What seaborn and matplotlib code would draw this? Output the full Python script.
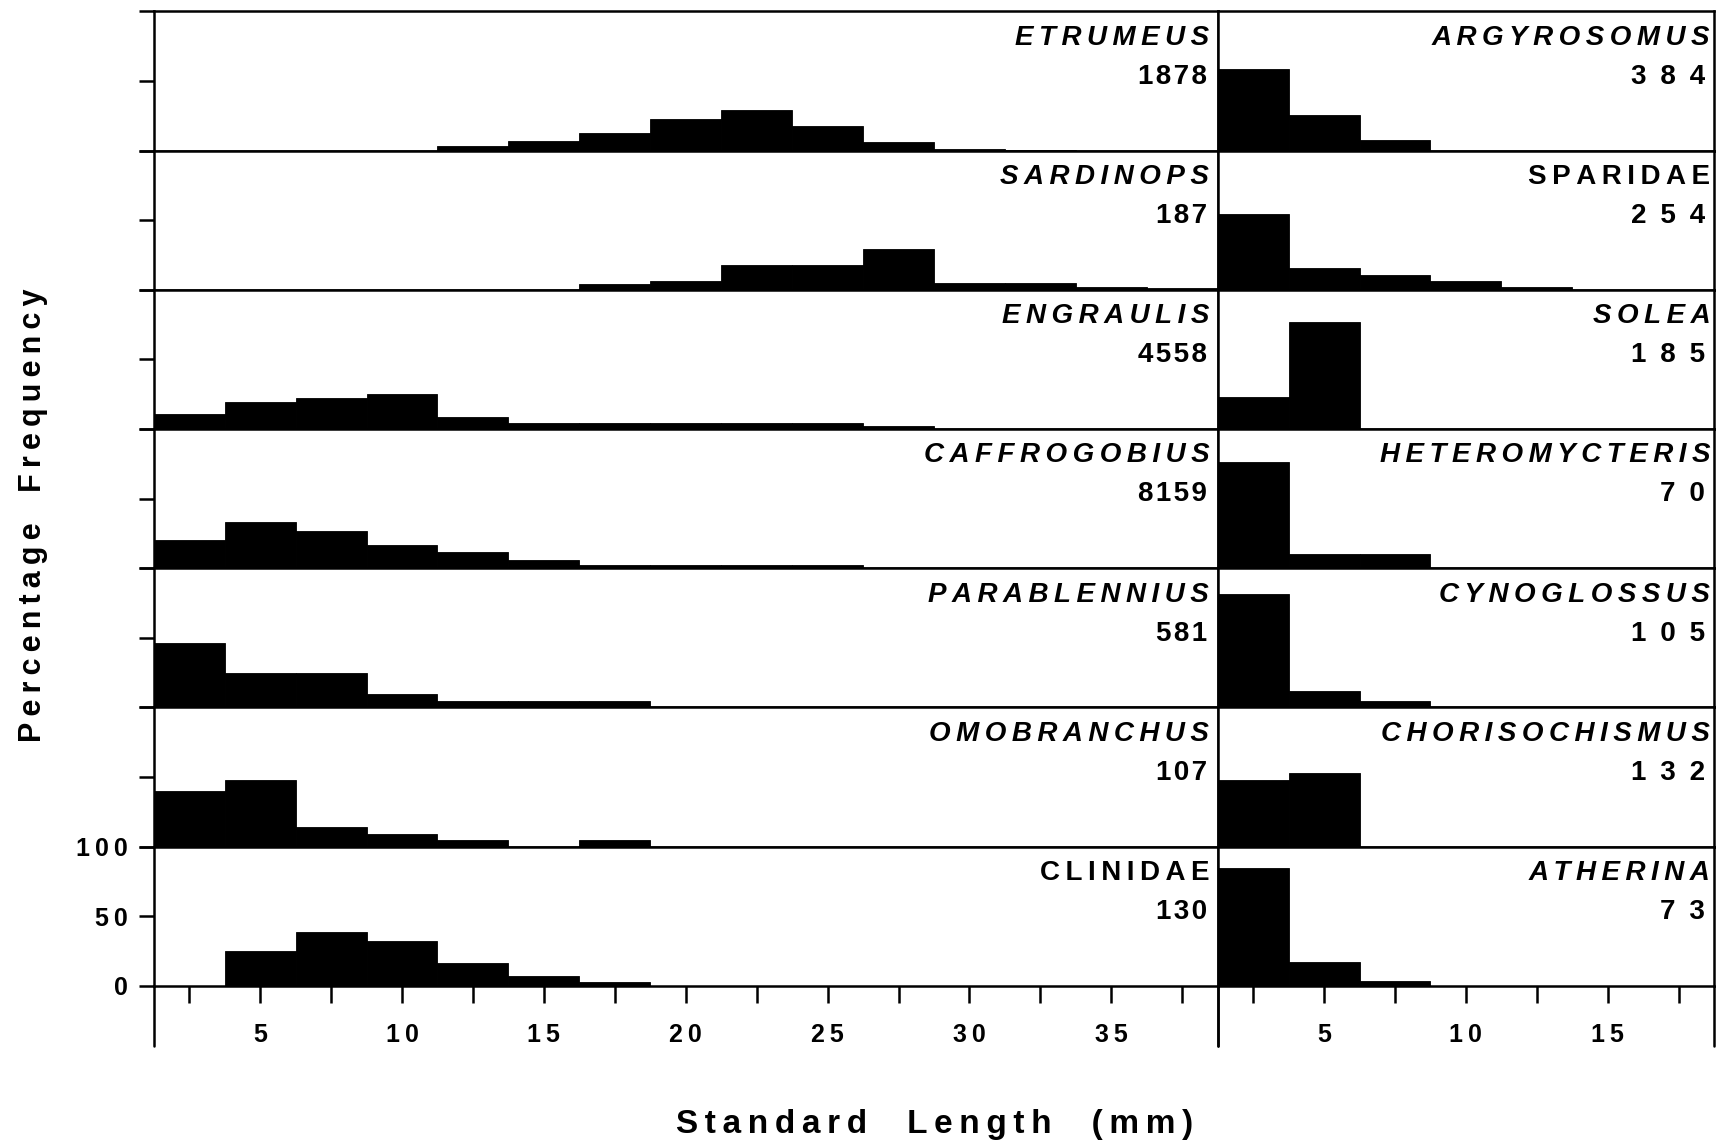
import matplotlib
matplotlib.use("Agg")
import matplotlib.pyplot as plt
import numpy as np
import pandas as pd
import seaborn as sns

# classes de longueur (mm), largeur 2.5 mm
left_edges = [1.25 + 2.5 * k for k in range(16)]
right_edges = [1.25 + 2.5 * k for k in range(8)]

# colonne de gauche
left_names = ["ETRUMEUS", "SARDINOPS", "ENGRAULIS", "CAFFROGOBIUS",
              "PARABLENNIUS", "OMOBRANCHUS", "CLINIDAE"]
left_n = ["1878", "187", "4558", "8159", "581", "107", "130"]
left_italic = [True, True, True, True, True, True, False]

etrumeus = [0, 0, 0, 0, 3.5, 7, 12.5, 23, 29, 18, 6, 1.5, 0.5, 0, 0]
sardinops = [0, 0, 0, 0, 0, 0, 4, 6, 17.5, 17.5, 29, 5, 5, 2, 1.5]
engraulis = [11, 19.5, 22.5, 25.5, 9, 4, 4, 4, 4.5, 4.5, 2.5, 0, 0, 0, 0]
caffrogobius = [20.5, 33, 26.5, 17, 11.5, 6, 2.5, 2.5, 2.5, 2.5, 0, 0, 0, 0, 0]
parablennius = [46.5, 24.5, 24.5, 9.5, 4.5, 4.5, 4.5, 0, 0, 0, 0, 0, 0, 0, 0]
omobranchus = [40, 48, 14, 9, 5, 0, 5, 0, 0, 0, 0, 0, 0, 0, 0]
clinidae = [0, 25, 39, 32.5, 16.5, 7, 3, 0, 0, 0, 0, 0, 0, 0, 0]

# colonne de droite
right_names = ["ARGYROSOMUS", "SPARIDAE", "SOLEA", "HETEROMYCTERIS",
               "CYNOGLOSSUS", "CHORISOCHISMUS", "ATHERINA"]
right_n = ["384", "254", "185", "70", "105", "132", "73"]
right_italic = [True, False, True, True, True, True, True]

argyrosomus = [59, 25.5, 8, 0, 0, 0, 0]
sparidae = [54.5, 15.5, 10.5, 6.5, 2, 0, 0]
solea = [23, 77, 0, 0, 0, 0, 0]
heteromycteris = [76.5, 10, 10, 0, 0, 0, 0]
cynoglossus = [81.5, 11.5, 4.5, 0, 0, 0, 0]
chorisochismus = [48, 53, 0, 0, 0, 0, 0]
atherina = [85, 17, 3.5, 0, 0, 0, 0]

left_values = [etrumeus, sardinops, engraulis, caffrogobius,
               parablennius, omobranchus, clinidae]
right_values = [argyrosomus, sparidae, solea, heteromycteris,
                cynoglossus, chorisochismus, atherina]

sns.set_theme(style="ticks")
plt.rcParams["font.family"] = ["Liberation Sans", "DejaVu Sans"]
plt.rcParams["font.weight"] = "bold"
for key in ["text.color", "axes.labelcolor", "xtick.color", "ytick.color", "axes.edgecolor"]:
    plt.rcParams[key] = "black"

LW = 1.8
HAIR = "\u200a"
THIN = "\u2009"
EN = "\u2002"
EM = "\u2003"


def spaced(s, gap):
    return gap.join(s)


fig = plt.figure(figsize=(17.28, 11.45), dpi=100)
gs = fig.add_gridspec(7, 2, left=0.089, right=0.992, top=0.990, bottom=0.139,
                      wspace=0, hspace=0, width_ratios=[37.5, 17.5])

columns = [
    (left_edges, left_names, left_n, left_italic, left_values, HAIR, np.arange(2.5, 38, 2.5)),
    (right_edges, right_names, right_n, right_italic, right_values, EN, np.arange(2.5, 18, 2.5)),
]

for col, (edges, names, counts, italic, values, ngap, ticks) in enumerate(columns):
    centers = [(a + b) / 2 for a, b in zip(edges[:-1], edges[1:])]
    for row in range(7):
        ax = fig.add_subplot(gs[row, col])
        df = pd.DataFrame({"length": centers, "pct": values[row]})
        sns.histplot(data=df, x="length", weights="pct", bins=edges, ax=ax,
                     color="black", alpha=1, edgecolor="black", linewidth=0.6)
        ax.set_xlim(edges[0], edges[-1])
        ax.set_ylim(0, 100)
        ax.set_xlabel("")
        ax.set_ylabel("")
        for sp in ax.spines.values():
            sp.set_visible(True)
            sp.set_linewidth(LW)
            sp.set_color("black")

        # axe y : graduations seulement a gauche
        if col == 0:
            ax.set_yticks([0, 50, 100])
            ax.tick_params(axis="y", direction="out", length=11, width=LW,
                           labelsize=18, pad=8)
            if row == 6:
                ax.set_yticklabels([spaced(t, THIN) for t in ["0", "50", "100"]])
            else:
                ax.set_yticklabels([])
        else:
            ax.set_yticks([])

        # axe x : seulement la derniere ligne
        if row == 6:
            ax.set_xticks(ticks)
            ax.set_xticklabels([spaced(str(int(t)), THIN) if t % 5 == 0 else ""
                                for t in ticks])
            ax.tick_params(axis="x", direction="out", length=12, width=LW,
                           labelsize=18, pad=15)
            for xx in (0, 1):
                ax.plot([xx, xx], [0, -0.43], transform=ax.transAxes,
                        color="black", lw=LW, clip_on=False)
        else:
            ax.set_xticks([])

        ax.text(0.992, 0.81, spaced(names[row], THIN), transform=ax.transAxes,
                ha="right", va="center", fontsize=20, fontweight="bold",
                style="italic" if italic[row] else "normal")
        ax.text(0.99 if col == 0 else 0.982, 0.53, spaced(counts[row], ngap),
                transform=ax.transAxes, ha="right", va="center",
                fontsize=20, fontweight="bold")

ylab = EM.join(spaced(w, THIN) for w in ["Percentage", "Frequency"])
xlab = (EM + THIN).join(spaced(w, THIN) for w in ["Standard", "Length", "(mm)"])
fig.text(0.019, 0.55, ylab, rotation=90, ha="center", va="center",
         fontsize=22, fontweight="bold")
fig.text(0.541, 0.018, xlab, ha="center", va="center",
         fontsize=24, fontweight="bold")

fig.savefig("out.png", dpi=100, facecolor="white")
